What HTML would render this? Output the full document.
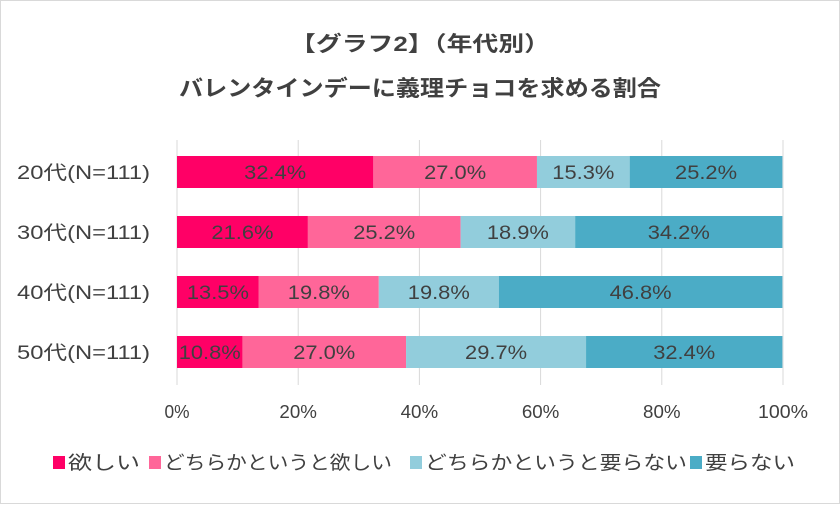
<!DOCTYPE html>
<html><head><meta charset="utf-8"><style>
body{margin:0;background:#fff}
svg text{font-family:"Liberation Sans","Noto Sans CJK JP",sans-serif;fill:#404040}
</style></head><body>
<svg width="840" height="504">
<rect x="0.5" y="0.5" width="839" height="503" fill="#fff" stroke="#d9d9d9"/>
<text x="420" y="51" text-anchor="middle" font-size="21" font-weight="bold" textLength="260" lengthAdjust="spacingAndGlyphs">【グラフ2】（年代別）</text>
<text x="420" y="96" text-anchor="middle" font-size="22" font-weight="bold" textLength="482" lengthAdjust="spacingAndGlyphs">バレンタインデーに義理チョコを求める割合</text>
<g id="plot"></g>
</svg>
<script>
const categories=["20代(N=111)","30代(N=111)","40代(N=111)","50代(N=111)"];
const seriesNames=["欲しい","どちらかというと欲しい","どちらかというと要らない","要らない"];
const s1=[32.4,21.6,13.5,10.8];
const s2=[27.0,25.2,19.8,27.0];
const s3=[15.3,18.9,19.8,29.7];
const s4=[25.2,34.2,46.8,32.4];
const ticks=[0,20,40,60,80,100];
const colors=["#FF0066","#FF6699","#92CDDC","#4BACC6"];
const NS="http://www.w3.org/2000/svg";
const g=document.getElementById('plot');
const x0=177,x1=783,yTop=140,yBot=385;
const xs=v=>x0+(x1-x0)*v/100;
const yc=i=>172+i*60;
function mk(t,a){const e=document.createElementNS(NS,t);for(const k in a)e.setAttribute(k,a[k]);g.appendChild(e);return e;}
ticks.forEach(t=>{
 const l=mk('line',{x1:xs(t),x2:xs(t),y1:yTop,y2:yBot,stroke:'#d9d9d9','stroke-width':1});
 
 
 const s=t+'%';
 const tx=mk('text',{x:xs(t),y:418,'text-anchor':'middle','font-size':18,textLength:s.length*12.5,lengthAdjust:'spacingAndGlyphs'});
 tx.textContent=s;
 
 
});
const series=[s1,s2,s3,s4];
categories.forEach((c,i)=>{
 const lab=mk('text',{x:150,y:yc(i)+7,'text-anchor':'end','font-size':19,textLength:133,lengthAdjust:'spacingAndGlyphs'});
 lab.textContent=c;
 
 
 let acc=0;
 series.forEach((s,j)=>{
  const v=s[i];
  const r=mk('rect',{x:xs(acc),y:yc(i)-16,width:xs(acc+v)-xs(acc),height:32,fill:colors[j]});
  
  
  const t=mk('text',{x:(xs(acc)+xs(acc+v))/2,y:yc(i)+7,'text-anchor':'middle','font-size':19,textLength:62,lengthAdjust:'spacingAndGlyphs'});
  t.textContent=v.toFixed(1)+'%';
  
  
  acc+=v;
 });
});
const lx=[53,149,410,690];
const lw=[72,228,262,90];
seriesNames.forEach((n,j)=>{
 const r=mk('rect',{x:lx[j],y:456,width:12,height:13,fill:colors[j]});
 
 
 const t=mk('text',{x:lx[j]+15,y:469,'font-size':19,textLength:lw[j],lengthAdjust:'spacingAndGlyphs'});
 t.textContent=n;
 
 
});
</script>
</body></html>
